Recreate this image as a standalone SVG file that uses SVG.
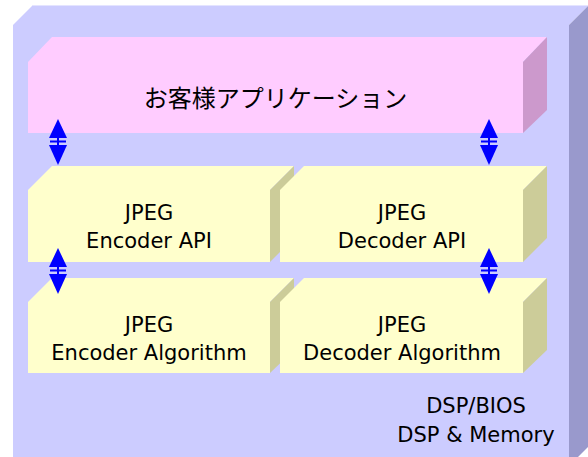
<svg xmlns="http://www.w3.org/2000/svg" width="588" height="457" viewBox="0 0 588 457">
<defs>
<style>
.of{fill:#ccccff}.os{fill:#9999cc}
.pf{fill:#ffccff}.ps{fill:#cc99cc}
.yf{fill:#ffffcc}.ys{fill:#cccc99}
.t{font-family:"DejaVu Sans","Liberation Sans",sans-serif;font-size:21px;fill:#000;text-anchor:middle}
.jt{font-family:"Noto Sans CJK JP","Noto Sans",sans-serif;font-size:24px;fill:#000;text-anchor:middle}
.ah{fill:#0000ff}
.sh{stroke:#0000ff;stroke-width:2;fill:none}
</style>
</defs>
<rect width="588" height="457" fill="#ffffff"/>
<g id="platform">
<polygon class="of" points="13,25 33,5 589,5 569,25"/>
<line x1="33" y1="5.5" x2="589" y2="5.5" stroke="#e4e4ff" stroke-width="1"/>
<rect class="of" x="13" y="25" width="556" height="437"/>
<polygon class="os" points="569,25 589,5 589,446 575,460 569,460"/>
<text class="t" x="476" y="413">DSP/BIOS</text>
<text class="t" x="476" y="442">DSP &amp; Memory</text>
</g>
<g id="app">
<polygon class="pf" points="28,62 52,37 547,37 523,62"/>
<rect class="pf" x="28" y="62" width="495" height="71"/>
<polygon class="ps" points="523,62 547,37 547,110 523,133"/>
<text class="jt" x="275.5" y="107">お客様アプリケーション</text>
</g>
<g id="enc-api">
<polygon class="yf" points="28,190 52,166 294,166 270,190"/>
<rect class="yf" x="28" y="190" width="242" height="72"/>
<polygon class="ys" points="270,190 294,166 294,238 270,262"/>
<text class="t" x="149" y="220">JPEG</text>
<text class="t" x="149" y="248">Encoder API</text>
</g>
<g id="dec-api">
<polygon class="yf" points="280,190 304,166 547,166 523,190"/>
<rect class="yf" x="280" y="190" width="243" height="72"/>
<polygon class="ys" points="523,190 547,166 547,238 523,262"/>
<text class="t" x="402" y="220">JPEG</text>
<text class="t" x="402" y="248">Decoder API</text>
</g>
<g id="enc-alg">
<polygon class="yf" points="28,302 52,278 294,278 270,302"/>
<rect class="yf" x="28" y="302" width="242" height="71"/>
<polygon class="ys" points="270,302 294,278 294,350 270,373"/>
<text class="t" x="149" y="332">JPEG</text>
<text class="t" x="149" y="360">Encoder Algorithm</text>
</g>
<g id="dec-alg">
<polygon class="yf" points="280,302 304,278 547,278 523,302"/>
<rect class="yf" x="280" y="302" width="243" height="71"/>
<polygon class="ys" points="523,302 547,278 547,350 523,373"/>
<text class="t" x="402" y="332">JPEG</text>
<text class="t" x="402" y="360">Decoder Algorithm</text>
</g>
<g id="connectors">
<g id="arrow-app-enc" transform="translate(58,119)">
<polygon class="ah" points="0,0 -9,19 9,19"/>
<line class="sh" x1="0" y1="19" x2="0" y2="27"/>
<line class="sh" x1="-8" y1="22.5" x2="8" y2="22.5"/>
<polygon class="ah" points="-9,26 9,26 0,46"/>
</g>
<g id="arrow-app-dec" transform="translate(489,119)">
<polygon class="ah" points="0,0 -9,19 9,19"/>
<line class="sh" x1="0" y1="19" x2="0" y2="27"/>
<line class="sh" x1="-8" y1="22.5" x2="8" y2="22.5"/>
<polygon class="ah" points="-9,26 9,26 0,46"/>
</g>
<g id="arrow-enc" transform="translate(58,248)">
<polygon class="ah" points="0,0 -9,19 9,19"/>
<line class="sh" x1="0" y1="19" x2="0" y2="27"/>
<line class="sh" x1="-8" y1="22.5" x2="8" y2="22.5"/>
<polygon class="ah" points="-9,26 9,26 0,46"/>
</g>
<g id="arrow-dec" transform="translate(489,248)">
<polygon class="ah" points="0,0 -9,19 9,19"/>
<line class="sh" x1="0" y1="19" x2="0" y2="27"/>
<line class="sh" x1="-8" y1="22.5" x2="8" y2="22.5"/>
<polygon class="ah" points="-9,26 9,26 0,46"/>
</g>
</g>
</svg>
